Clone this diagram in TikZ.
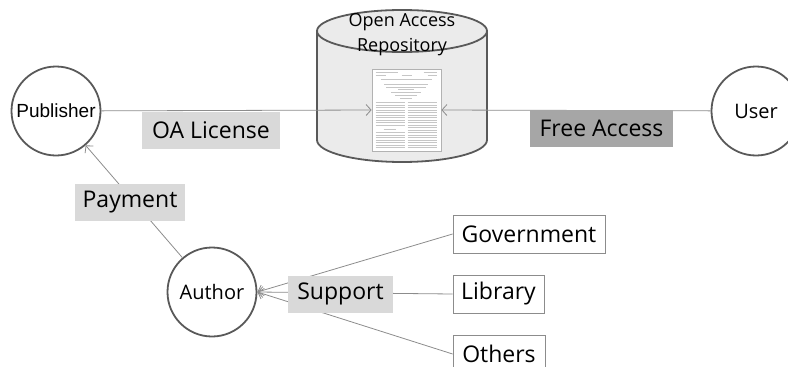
\documentclass[tikz,border=0pt]{standalone}
\usepackage{fontspec}
\setmainfont{Open Sans}
\newfontfamily\pubfont{Liberation Sans}
\usetikzlibrary{arrows.meta, positioning}
\definecolor{rimGray}{HTML}{595959}
\definecolor{lineGray}{HTML}{8C8C8C}
\definecolor{cylFill}{HTML}{EBEBEB}
\definecolor{tagLightFill}{HTML}{D9D9D9}
\definecolor{tagDarkFill}{HTML}{A6A6A6}
\tikzset{
    actor/.style={circle, draw=rimGray, line width=1.8pt, fill=white, minimum size=89pt, inner sep=0pt, font=\fontsize{20}{22}\selectfont},
    source/.style={rectangle, draw=lineGray, line width=0.8pt, fill=white, minimum height=38pt, inner sep=3pt, font=\fontsize{23}{25}\selectfont},
    tagLight/.style={rectangle, fill=tagLightFill, minimum height=37pt, inner sep=3pt, font=\fontsize{23}{25}\selectfont},
    tagDark/.style={tagLight, fill=tagDarkFill},
    paperSheet/.style={rectangle, draw=gray!60, line width=0.8pt, fill=white, minimum width=69pt, minimum height=82pt, inner sep=0pt},
    inkLine/.style={gray!45, line width=0.6pt},
    flowEdge/.style={-{Straight Barb[length=5pt, width=11pt]}, draw=lineGray, line width=0.8pt},
}
\newcommand{\drawFlow}[3][flowEdge]{
    \draw[#1] (#2) -- (#3);
}

\begin{document}
\begin{tikzpicture}[x=1pt, y=-1pt]

        \useasboundingbox (0,0) rectangle (788,367);
        \clip (0,0) rectangle (788,367);

        % repository cylinder
        \filldraw[fill=cylFill, draw=rimGray, line width=1.8pt] (402,140) ellipse [x radius=85, y radius=22];
        \fill[cylFill] (317,31) rectangle (487,140);
        \draw[rimGray, line width=1.8pt] (317,31) -- (317,140) (487,31) -- (487,140);
        \filldraw[fill=cylFill, draw=rimGray, line width=1.8pt] (402,31) ellipse [x radius=85, y radius=21];
        \node[font=\fontsize{18}{25}\selectfont, align=center] (repoTitle) at (402,35) {Open Access\\Repository};

        % paper inside the repository
        \node[paperSheet] (paper) at (406.5,110) {};
        \begin{scope}[shift={(paper.north west)}]
            \draw[inkLine] (4,4) -- (26,4) (52,4) -- (65,4);
            \draw[inkLine] (4,7) -- (14,7) (30,7) -- (40,7) (56,7) -- (65,7);
            \draw[inkLine, line width=0.9pt] (9,11) -- (60,11);
            \foreach \yy/\ww in {16/44, 18.5/40, 21/16, 24/30, 27/22, 29.5/12}
                \draw[inkLine] ({34.5-\ww/2},\yy) -- ({34.5+\ww/2},\yy);
            \foreach \yy in {34,36.5,...,56.5}
                \draw[inkLine] (4,\yy) -- (33,\yy);
            \foreach \yy in {64,66.5,...,79}
                \draw[inkLine] (4,\yy) -- (33,\yy);
            \draw[inkLine] (12,60.5) -- (24,60.5);
            \foreach \yy in {34,36.5,...,79}
                \draw[inkLine] (36,\yy) -- (65,\yy);
        \end{scope}

        % actors
        \node[actor, font=\pubfont\fontsize{19}{21}\selectfont] (Publisher) at (56,111) {Publisher};
        \node[actor] (User) at (756,111) {User};
        \node[actor] (Author) at (212,292) {Author};

        % sources of support
        \node[source, minimum width=152pt] (Government) at (529,234) {Government};
        \node[source, minimum width=91pt] (Library) at (498.5,294) {Library};
        \node[source, minimum width=92pt] (Others) at (499,354) {Others};

        % flows
        \drawFlow{Publisher}{paper.west}
        \drawFlow{User}{paper.east}
        \drawFlow{Author}{Publisher}
        \drawFlow{Government.west}{Author.east}
        \drawFlow{Library.west}{Author.east}
        \drawFlow{Others.west}{Author.east}

        % labels on the flows
        \node[tagLight, minimum width=138pt] (license) at (211,130.5) {OA License};
        \node[tagDark, minimum width=143pt] (access) at (601.5,128.5) {Free Access};
        \node[tagLight, minimum width=110pt] (payment) at (130,202.5) {Payment};
        \node[tagLight, minimum width=105pt] (support) at (340.5,294) {Support};

    \end{tikzpicture}
\end{document}
